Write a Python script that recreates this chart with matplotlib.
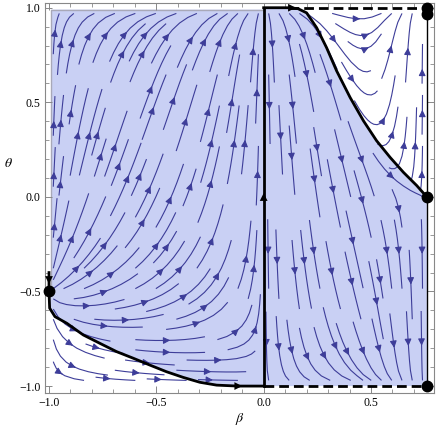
import numpy as np
import matplotlib.pyplot as plt
from matplotlib.ticker import MultipleLocator, FuncFormatter

plt.rcParams['mathtext.fontset'] = 'stix'

beta_max = 0.76
lower_beta = [-1.0, -1.0, -0.997, -0.972, -0.917, -0.840, -0.763, -0.685, -0.607,
              -0.530, -0.453, -0.375, -0.297, -0.219, -0.12, 0.0]
lower_theta = [-0.40, -0.50, -0.588, -0.633, -0.668, -0.730, -0.774, -0.818, -0.853,
               -0.889, -0.924, -0.954, -0.980, -0.995, -1.0, -1.0]
upper_beta = [0.0, 0.12, 0.16, 0.20, 0.247, 0.293, 0.340, 0.403, 0.465, 0.526,
              0.589, 0.651, 0.713, 0.76]
upper_theta = [1.0, 1.0, 0.995, 0.973, 0.894, 0.789, 0.666, 0.525, 0.402, 0.297,
               0.209, 0.130, 0.060, 0.0]
dots_beta = [-1.0, 0.76, 0.76, 0.76, 0.76]
dots_theta = [-0.5, -1.0, 0.0, 1.0, 0.965]

# field shape parameters (left / right of beta = 0)
k_left, a_left = 1.2, 0.5
k_right, c_right, p_right = 0.11, 0.28, 4

blue = '#3d3d99'
shade = '#c9d0f4'

fig = plt.figure(figsize=(4.36, 4.29), dpi=100)
ax = fig.add_axes([45/436, 1-392.7/429, 389/436, 389.7/429])

# shaded regions
left_x = lower_beta[1:] + [0.0, -0.99, -0.99]
left_y = lower_theta[1:] + [0.99, 0.99, -0.5]
ax.fill(left_x, left_y, color=shade, lw=0, zorder=0)
ax.plot([-0.99, -0.99, 0.0], [-0.5, 0.99, 0.99], color='#a8a8b8', lw=1, zorder=0.5)
right_x = [0.0, beta_max, beta_max] + upper_beta[::-1]
right_y = [-1.0, -1.0, 0.0] + upper_theta[::-1]
ax.fill(right_x, right_y, color=shade, lw=0, zorder=0)

# vector field, sampled slightly inside the frame
bb, tt = np.meshgrid(np.linspace(-0.98, beta_max - 0.02, 300), np.linspace(-0.97, 0.97, 300))
u = bb + 1
v = bb / beta_max
U_l = k_left * u * (-bb)
V_l = (1 - tt**2) * (tt + 0.5 + a_left * u)
U_r = k_right * v * (1 - v)
V_r = (1 - tt**2) * (tt * v**p_right - c_right * (1 - v))
U = np.where(bb < 0, U_l, U_r)
V = np.where(bb < 0, V_l, V_r)
ax.streamplot(bb, tt, U, V, density=1.25, color=blue, linewidth=0.8,
              arrowsize=1.0, arrowstyle='-|>', maxlength=0.4, zorder=2)

# separatrices and invariant lines
ax.plot([0, 0], [-1, 1], color='k', lw=2, zorder=4)
ax.plot(upper_beta, upper_theta, color='k', lw=2, zorder=4)
ax.plot(lower_beta, lower_theta, color='k', lw=2, zorder=4)
ax.plot([0.12, beta_max], [1, 1], color='k', lw=2, ls=(0, (3.5, 1.8)), zorder=4)
ax.plot([0, beta_max], [-1, -1], color='k', lw=2, ls=(0, (3.5, 1.8)), zorder=4)
ax.plot([beta_max, beta_max], [-1, 0.965], color='k', lw=1, zorder=4)
for tip, tail in [((0, 0.02), (0, -0.1)), ((0.15, 1), (0.08, 1)),
                  ((-0.1, -1), (-0.17, -1)), ((-1, -0.46), (-1, -0.38))]:
    ax.annotate('', xy=tip, xytext=tail, zorder=5,
                arrowprops=dict(arrowstyle='-|>', color='k', lw=0,
                                mutation_scale=14, shrinkA=0, shrinkB=0))
ax.plot(dots_beta, dots_theta, 'o', color='k', ms=7.5, zorder=6, clip_on=False)

ax.set_xlim(-1.0186, 0.7935)
ax.set_ylim(-1.035, 1.025)
ax.xaxis.set_major_locator(MultipleLocator(0.5))
ax.xaxis.set_minor_locator(MultipleLocator(0.1))
ax.yaxis.set_major_locator(MultipleLocator(0.5))
ax.yaxis.set_minor_locator(MultipleLocator(0.1))
fmt = FuncFormatter(lambda x, pos: f'{x:.1f}'.replace('-', '\u2212'))
ax.xaxis.set_major_formatter(fmt)
ax.yaxis.set_major_formatter(fmt)
ax.tick_params(which='both', direction='in', top=True, right=True, color='#888888',
               labelsize=8.5, labelfontfamily='Liberation Serif', pad=3)
ax.tick_params(which='major', length=5, width=0.7)
ax.tick_params(which='minor', length=3, width=0.6)
for s in ax.spines.values():
    s.set_color('#888888')
    s.set_linewidth(0.8)

fig.text(240/436, 1-419/429, r'$\beta$', ha='center', va='center', fontsize=10)
fig.text(8/436, 1-163/429, r'$\theta$', ha='center', va='center', fontsize=10)

fig.savefig('out.png', dpi=100)
